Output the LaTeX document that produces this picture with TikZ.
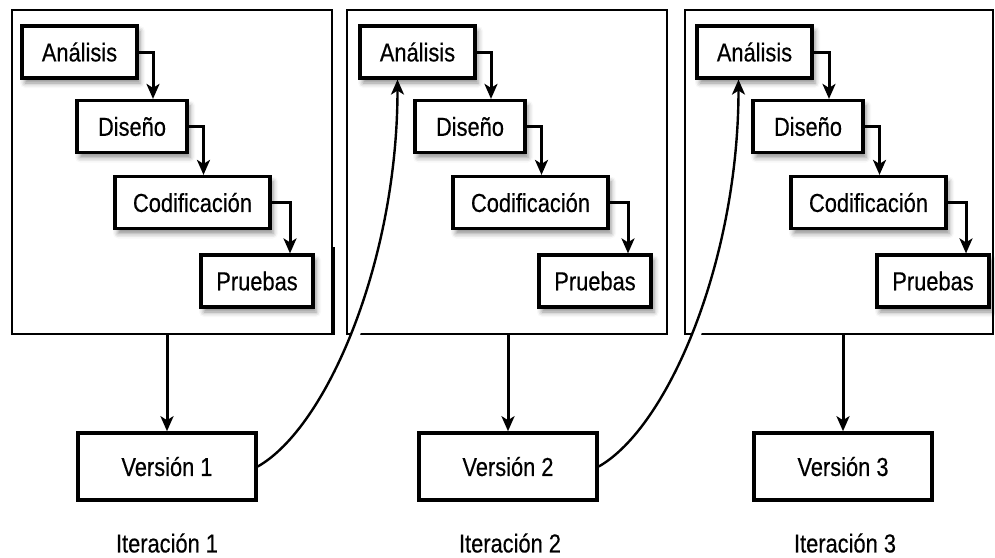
\documentclass[tikz,border=0pt]{standalone}
\usepackage{fontspec}
\setmainfont[FakeStretch=0.84,FakeBold=0.4]{Liberation Sans}
\usetikzlibrary{arrows.meta,shadows.blur}

\begin{document}
\begin{tikzpicture}[x=1pt,y=-1pt,>={Stealth[length=15pt,width=13pt,inset=4pt]},
every node/.style={font=\fontsize{26}{30}\selectfont},
marco/.style={draw,line width=2.4pt,inner sep=0pt},
fase/.style={draw,line width=3.2pt,fill=white,minimum height=52pt,inner sep=0pt,%
blur shadow={shadow xshift=3pt,shadow yshift=-5pt,shadow blur radius=5pt,shadow opacity=45}},
version/.style={draw,line width=3.6pt,minimum width=178pt,minimum height=67pt,inner sep=0pt},
flecha/.style={->,line width=3pt},
retorno/.style={->,line width=2.4pt,%
preaction={draw=white,-,line width=8pt,shorten <=40pt,shorten >=40pt}}]
\useasboundingbox (0,0) rectangle (995,557);
% marcos de cada iteracion
\node[marco,minimum width=320pt,minimum height=324pt] (f1) at (172,172) {};
\node[marco,minimum width=320pt,minimum height=324pt] (f2) at (507,172) {};
\node[marco,minimum width=308pt,minimum height=324pt] (f3) at (839,172) {};
\draw[line width=4pt] (f1.south east) -- ++(0,-88);
% iteracion 1
\node[fase,minimum width=115pt] (a1) at (79.5,52) {Análisis};
\node[fase,minimum width=110pt] (d1) at (132,126.5) {Diseño};
\node[fase,minimum width=155pt] (c1) at (192.5,202.5) {Codificación};
\node[fase,minimum width=112pt] (p1) at (257,281) {Pruebas};
% iteracion 2
\node[fase,minimum width=115pt] (a2) at (417.5,52) {Análisis};
\node[fase,minimum width=110pt] (d2) at (470,126.5) {Diseño};
\node[fase,minimum width=155pt] (c2) at (530.5,202.5) {Codificación};
\node[fase,minimum width=112pt] (p2) at (595,281) {Pruebas};
% iteracion 3
\node[fase,minimum width=115pt] (a3) at (754.5,52) {Análisis};
\node[fase,minimum width=110pt] (d3) at (808,126.5) {Diseño};
\node[fase,minimum width=155pt] (c3) at (868.5,202.5) {Codificación};
\node[fase,minimum width=112pt] (p3) at (933,281) {Pruebas};
% versiones
\node[version] (v1) at (167,466.5) {Versión 1};
\node[version] (v2) at (508,466.5) {Versión 2};
\node[version] (v3) at (843,466.5) {Versión 3};
\node (i1) at (167,543) {Iteración 1};
\node (i2) at (510,543) {Iteración 2};
\node (i3) at (845,543) {Iteración 3};
% flechas entre fases
\draw[flecha] (a1.east) -| ([xshift=21pt]d1.north);
\draw[flecha] (d1.east) -| ([xshift=11pt]c1.north);
\draw[flecha] (c1.east) -| ([xshift=33pt]p1.north);
\draw[flecha] (a2.east) -| ([xshift=21pt]d2.north);
\draw[flecha] (d2.east) -| ([xshift=11pt]c2.north);
\draw[flecha] (c2.east) -| ([xshift=33pt]p2.north);
\draw[flecha] (a3.east) -| ([xshift=21pt]d3.north);
\draw[flecha] (d3.east) -| ([xshift=11pt]c3.north);
\draw[flecha] (c3.east) -| ([xshift=33pt]p3.north);
% de cada iteracion a su version
\draw[flecha] (f1.south -| v1.north) -- (v1.north);
\draw[flecha] (f2.south -| v2.north) -- (v2.north);
\draw[flecha] (f3.south -| v3.north) -- (v3.north);
% de una version a la siguiente iteracion
\draw[retorno] (v1.east) .. controls +(70,-40) and +(0,180) .. ([xshift=-20pt]a2.south);
\draw[retorno] (v2.east) .. controls +(70,-40) and +(0,180) .. ([xshift=-16pt]a3.south);
\end{tikzpicture}
\end{document}
